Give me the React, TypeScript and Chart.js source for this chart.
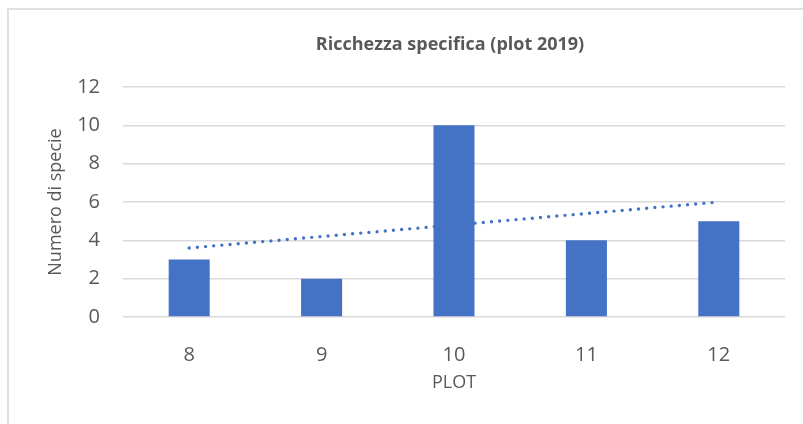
import React, { useEffect, useRef } from "react";
import { Chart, registerables } from "chart.js";

Chart.register(...registerables);

const categories = ["8", "9", "10", "11", "12"];
const speciesCount = [3, 2, 10, 4, 5];
const trendValues = [3.6, 4.2, 4.8, 5.4, 6.0];
const yTicks = [0, 2, 4, 6, 8, 10, 12];

const TEXT = "#595959";
const BLUE = "#4472C4";
const FONT = "'Open Sans', 'Noto Sans', sans-serif";

export default function App() {
  const ref = useRef<HTMLCanvasElement | null>(null);

  useEffect(() => {
    if (!ref.current) return;
    const chart = new Chart(ref.current, {
      type: "bar",
      data: {
        labels: categories,
        datasets: [
          {
            type: "bar",
            data: speciesCount,
            backgroundColor: BLUE,
            borderWidth: 0,
            barPercentage: 0.31,
            categoryPercentage: 1,
            order: 1,
          },
          {
            type: "line",
            data: trendValues,
            borderColor: BLUE,
            borderWidth: 3.4,
            borderDash: [0, 8.2],
            borderCapStyle: "round",
            pointRadius: 0,
            fill: false,
            tension: 0,
            order: 2,
          } as any,
        ],
      },
      options: {
        animation: false,
        responsive: false,
        maintainAspectRatio: false,
        layout: { padding: { left: 0, right: 0, top: 0, bottom: 0 } },
        plugins: {
          legend: { display: false },
          tooltip: { enabled: false },
          title: {
            display: true,
            text: "Ricchezza specifica (plot 2019)",
            color: TEXT,
            font: { family: FONT, size: 18, weight: "bold" },
            padding: { top: 34, bottom: 31.4 },
          },
        },
        scales: {
          x: {
            grid: { display: false },
            border: { display: false },
            ticks: {
              color: TEXT,
              font: { family: FONT, size: 20 },
              padding: 18,
              maxRotation: 0,
            },
            title: {
              display: true,
              text: "PLOT",
              color: TEXT,
              font: { family: FONT, size: 18 },
              padding: { top: 0, bottom: 30.5 },
            },
            afterFit: (s: any) => {
              s.height = 107;
            },
          },
          y: {
            min: 0,
            max: 12,
            afterBuildTicks: (s: any) => {
              s.ticks = yTicks.map((v) => ({ value: v }));
            },
            grid: {
              color: "#d9d9d9",
              lineWidth: 1.5,
              drawTicks: false,
              tickLength: 0,
            },
            border: { display: false },
            ticks: {
              color: TEXT,
              font: { family: FONT, size: 20 },
              padding: 23,
            },
            title: {
              display: true,
              text: "Numero di specie",
              color: TEXT,
              font: { family: FONT, size: 18 },
              padding: { top: 36.7, bottom: 0 },
            },
            afterFit: (s: any) => {
              s.width = 115;
            },
          },
          yRightSpace: {
            type: "linear",
            position: "right",
            display: true,
            min: 0,
            max: 12,
            grid: { display: false, drawTicks: false },
            border: { display: false },
            ticks: { display: false },
            afterFit: (s: any) => {
              s.width = 107;
            },
          },
        },
      } as any,
    });
    return () => chart.destroy();
  }, []);

  return (
    <div
      style={{
        position: "absolute",
        left: 0,
        top: 0,
        width: 803,
        height: 424,
        overflow: "hidden",
        background: "#ffffff",
      }}
    >
      <div
        style={{
          position: "absolute",
          left: 7,
          top: 8,
          width: 1000,
          height: 600,
          borderLeft: "2px solid #e0e0e0",
          borderTop: "2px solid #e0e0e0",
        }}
      />
      <canvas
        ref={ref}
        width={884}
        height={424}
        style={{ position: "absolute", left: 8, top: 0, width: 884, height: 424 }}
      />
    </div>
  );
}
